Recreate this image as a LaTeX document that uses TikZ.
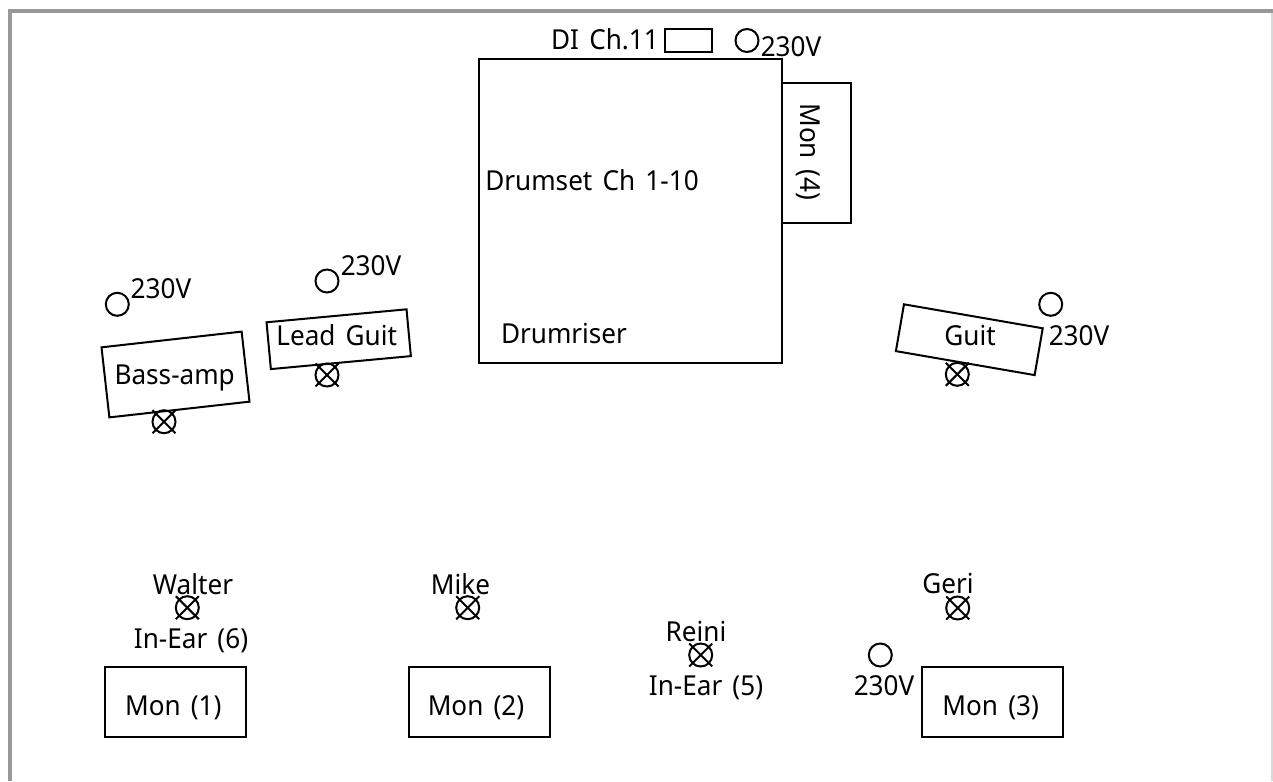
\documentclass[tikz,border=0pt]{standalone}
\usepackage{fontspec}
\setmainfont[WordSpace=1.5,FakeStretch=0.95]{Noto Sans}
\newcommand{\xsock}[3]{%
  \node[sock] (#1) at (#2,#3) {};
  \draw[mark line] (#1.center) ++(-11.5,-11.5) -- ++(23,23);
  \draw[mark line] (#1.center) ++(11.5,-11.5) -- ++(-23,23);
}
\begin{document}
\begin{tikzpicture}[x=1pt,y=-1pt,
  every node/.style={inner sep=0pt,outer sep=0pt},
  lbl/.style={font=\fontsize{27.5}{30}\selectfont,text=black,anchor=base},
  box/.style={draw=black,line width=2pt},
  sock/.style={draw=black,line width=2pt,circle,minimum size=23pt},
  mark line/.style={draw=black,line width=2pt},
  frameline/.style={draw=black!40,line width=4pt}]
\useasboundingbox (0,0) rectangle (1273,781);
\path[fill=white] (0,0) rectangle (1273,781);
\draw[frameline] (10,781) -- (10,11) -- (1273,11);
\draw[draw=black!15,line width=1.5pt] (1272,13) -- (1272,781);
% stage pieces
\node[box,minimum width=303pt,minimum height=304pt,anchor=north west] (riser) at (479,59) {};
\node[box,minimum width=69pt,minimum height=140pt,anchor=north west] (mon4) at (782,83) {};
\node[box,minimum width=47pt,minimum height=23pt,anchor=north west] (di) at (665,29) {};
\node[lbl,rotate=-90] (mon4t) at (800.7,151.7) {Mon (4)};
\node[lbl] (t1) at (592,190) {Drumset Ch 1-10};
\node[lbl] (t2) at (564,343) {Drumriser};
\node[lbl] (t3) at (605,50) {DI Ch.11};
\node[sock] (s1) at (747,40.5) {};
\node[lbl] (v1) at (791,56.7) {230V};
% amps
\node[box,rotate=6.4,minimum width=141pt,minimum height=70.5pt] (bass) at (175.5,374.5) {};
\node[lbl] (basst) at (174.7,384) {Bass-amp};
\node[box,rotate=5.3,minimum width=140.6pt,minimum height=47pt] (lead) at (338.7,339.2) {};
\node[lbl] (leadt) at (336.7,345.7) {Lead Guit};
\node[box,rotate=-9.8,minimum width=140.8pt,minimum height=47.5pt] (guit) at (969.3,339.7) {};
\node[lbl] (guitt) at (970,345.7) {Guit};
% sockets
\node[sock] (s2) at (117.3,304.3) {};
\node[lbl] (v2) at (161,298.3) {230V};
\node[sock] (s3) at (327,281) {};
\node[lbl] (v3) at (371,275) {230V};
\node[sock] (s4) at (1050.7,304.3) {};
\node[lbl] (v4) at (1079,345) {230V};
\node[sock] (s5) at (880.3,655) {};
\node[lbl] (v5) at (884,695) {230V};
% crossed sockets
\xsock{x1}{164}{421.7}
\xsock{x2}{327}{375}
\xsock{x3}{957.3}{374.3}
\xsock{x4}{187.3}{607.7}
\xsock{x5}{467.7}{607.7}
\xsock{x6}{700.7}{655}
\xsock{x7}{957.7}{608}
% monitors
\node[box,minimum width=140.5pt,minimum height=70pt,anchor=north west] (m1) at (105,666.7) {};
\node[lbl] (m1t) at (173.3,715) {Mon (1)};
\node[box,minimum width=140.5pt,minimum height=70pt,anchor=north west] (m2) at (409,666.7) {};
\node[lbl] (m2t) at (476,715) {Mon (2)};
\node[box,minimum width=140.5pt,minimum height=70pt,anchor=north west] (m3) at (922.3,666.7) {};
\node[lbl] (m3t) at (990.7,715) {Mon (3)};
% names
\node[lbl] (n1) at (193,594.3) {Walter};
\node[lbl] (n1b) at (191,648.3) {In-Ear (6)};
\node[lbl] (n2) at (460.5,594) {Mike};
\node[lbl] (n3) at (696,641) {Reini};
\node[lbl] (n3b) at (706,695) {In-Ear (5)};
\node[lbl] (n4) at (948,593.3) {Geri};
\end{tikzpicture}
\end{document}
